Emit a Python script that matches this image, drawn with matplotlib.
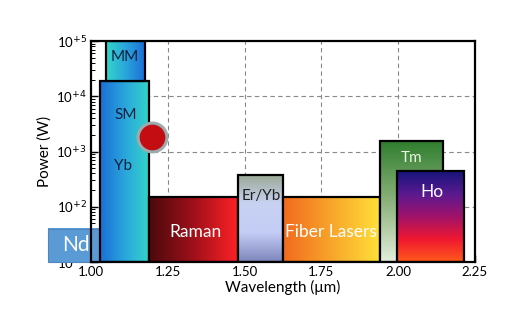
import numpy as np
import matplotlib
matplotlib.use('Agg')
import matplotlib.pyplot as plt
from matplotlib.colors import LinearSegmentedColormap
from matplotlib.patches import Rectangle

plt.rcParams['font.family'] = ['Lato', 'DejaVu Sans']

# laser bands: wavelength span (um) and power span (W)
names = ['Nd', 'Yb', 'MM', 'Raman', 'Er/Yb', 'Fiber Lasers', 'Tm', 'Ho']
wl_start = [0.86, 1.03, 1.05, 1.19, 1.48, 1.625, 1.94, 1.997]
wl_end = [1.035, 1.19, 1.175, 1.48, 1.625, 1.94, 2.147, 2.215]
p_low = [10, 10, 1.9e4, 10, 10, 10, 10, 10]
p_high = [40, 1.9e4, 1e5, 150, 380, 150, 1570, 440]

dot_wl = 1.2
dot_p = 1.8e3

xticks = [1.00, 1.25, 1.50, 1.75, 2.00, 2.25]
ydecades = [1, 2, 3, 4, 5]

# colour ramps (direction: 'h' left->right, 'v' bottom->top)
ramps = {
    'Nd': (['#5b9bd5', '#5b9bd5'], 'h'),
    'Yb': (['#1a6fd6', '#2aa6dc', '#33d6c8'], 'h'),
    'MM': (['#33d6c8', '#2aa6dc', '#1a6fd6'], 'h'),
    'Raman': (['#4a0a0c', '#a0101a', '#ff2226'], 'h'),
    'Er/Yb': (['#7d86bb', '#c4cdf5', '#c8d2f2', '#9aa894'], 'v'),
    'Fiber Lasers': (['#f26a1f', '#f8a52a', '#ffe03a'], 'h'),
    'Tm': (['#e4efdc', '#8cb27a', '#2e7d2e'], 'v'),
    'Ho': (['#ff5a1a', '#f01830', '#a0126a', '#5a1a90', '#16157a'], 'v'),
}

# text labels: (wavelength, log10 power, colour, size)
labels = [
    ('Nd', 0.951, 1.30, 'white', 15),
    ('SM', 1.114, 3.66, '#102040', 11),
    ('Yb', 1.105, 2.74, '#102040', 11),
    ('MM', 1.11, 4.71, '#102040', 11),
    ('Raman', 1.34, 1.54, 'white', 12.5),
    ('Er/Yb', 1.555, 2.2, '#202020', 11),
    ('Fiber Lasers', 1.78, 1.54, 'white', 12.5),
    ('Tm', 2.045, 2.88, '#e8f4e0', 11),
    ('Ho', 2.11, 2.27, 'white', 12.5),
]

fig = plt.figure(figsize=(5.16, 3.23), dpi=100)
ax = fig.add_axes([0.1764, 0.1889, 0.7441, 0.6841])

ax.set_xlim(1.0, 2.25)
ax.set_ylim(1, 5)

for x in xticks[1:-1]:
    ax.axvline(x, color='#888888', ls=(0, (4, 3)), lw=0.8, zorder=0)
for y in ydecades[1:-1]:
    ax.axhline(y, color='#888888', ls=(0, (4, 3)), lw=0.8, zorder=0)

for i, n in enumerate(names):
    x0, x1 = wl_start[i], wl_end[i]
    y0, y1 = np.log10(p_low[i]), np.log10(p_high[i])
    cols, d = ramps[n]
    cmap = LinearSegmentedColormap.from_list(n, cols)
    g = np.linspace(0, 1, 256)
    arr = g[None, :] if d == 'h' else g[::-1][:, None]
    z = 1.8 if n == 'Nd' else 2 + i * 0.01
    im = ax.imshow(arr, cmap=cmap, extent=[x0, x1, y0, y1], aspect='auto',
                   interpolation='bilinear', zorder=z)
    if n == 'Nd':
        im.set_clip_on(False)
        ax.add_patch(Rectangle((x0, y0), x1 - x0, y1 - y0, fill=False,
                               ec='#4f86bd', lw=0.8, zorder=z + 0.05, clip_on=False))
    else:
        ax.add_patch(Rectangle((x0, y0), x1 - x0, y1 - y0, fill=False,
                               ec='black', lw=1.6, zorder=z + 0.005))

for n, lx, ly, lc, fs in labels:
    ax.text(lx, ly, n, color=lc, fontsize=fs, ha='center', va='center', zorder=10)

# red dot
ax.scatter([dot_wl], [np.log10(dot_p)], s=430, color='#c40d12', edgecolors='#9aacae',
           linewidths=2.2, zorder=8, clip_on=False)

ax.set_xticks(xticks)
ax.set_xticklabels(['%.2f' % v for v in xticks])
ax.set_xticks(np.arange(1.0, 2.25, 0.25 / 3), minor=True)
ax.set_yticks(ydecades)
ax.set_yticklabels([r'10$^{+%d}$' % v for v in ydecades])
minor_y = [d + np.log10(k) for d in ydecades[:-1] for k in range(2, 10)]
ax.set_yticks(minor_y, minor=True)
ax.tick_params(axis='both', which='both', direction='in', labelsize=9.5, pad=3,
               top=False, right=False)
ax.tick_params(axis='both', which='major', length=5, width=1)
ax.tick_params(axis='both', which='minor', length=3, width=0.7)

for s in ax.spines.values():
    s.set_linewidth(1.6)
    s.set_zorder(9)

ax.set_xlabel(u'Wavelength (\u03bcm)', fontsize=11, labelpad=1)
ax.set_ylabel('Power (W)', fontsize=11, labelpad=3)

fig.savefig('out.png', dpi=100)
